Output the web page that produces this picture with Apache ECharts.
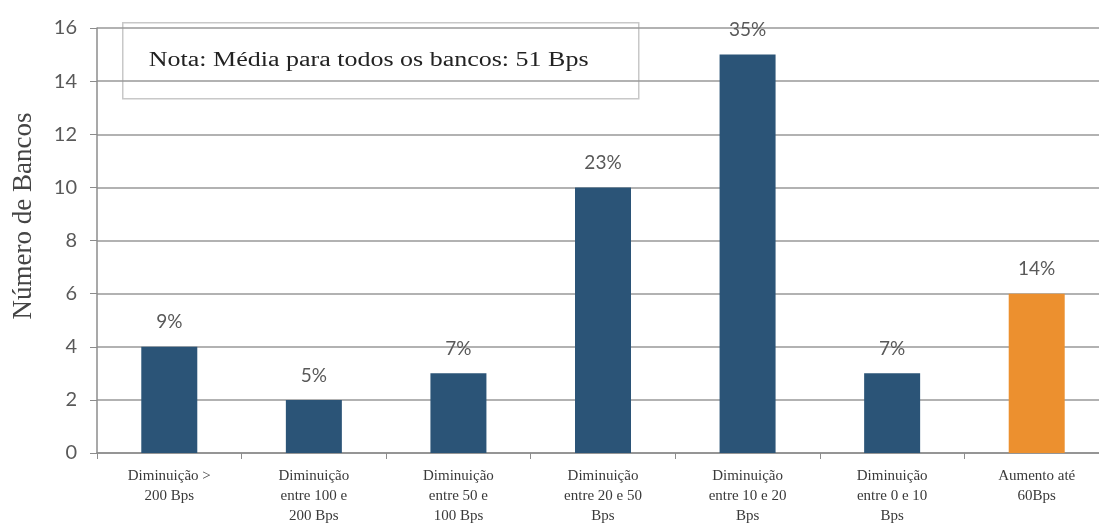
<!DOCTYPE html>
<html>
<head>
<meta charset="utf-8">
<script src="https://cdn.jsdelivr.net/npm/echarts@6/dist/echarts.min.js"></script>
<style>
html,body{margin:0;padding:0;background:#fff;}
#chart{width:1099px;height:524px;}
</style>
</head>
<body>
<div id="chart"></div>
<script>
// Distribuição dos bancos por variação de spread
const categories = [
  'Diminuição >\n200 Bps',
  'Diminuição\nentre 100 e\n200 Bps',
  'Diminuição\nentre 50 e\n100 Bps',
  'Diminuição\nentre 20 e 50\nBps',
  'Diminuição\nentre 10 e 20\nBps',
  'Diminuição\nentre 0 e 10\nBps',
  'Aumento até\n60Bps'
];
const bankCounts = [4, 2, 3, 10, 15, 3, 6];
const shareLabels = ['9%', '5%', '7%', '23%', '35%', '7%', '14%'];
const isIncrease = [false, false, false, false, false, false, true];
const yTicks = [0, 2, 4, 6, 8, 10, 12, 14, 16];

const blue = '#2B5477';
const orange = '#EC902F';

const chart = echarts.init(document.getElementById('chart'));
chart.setOption({
  animation: false,
  backgroundColor: '#fff',
  grid: {
    left: 97, top: 28, width: 1012, height: 425,
    containLabel: false, outerBoundsMode: 'none'
  },
  xAxis: {
    type: 'category',
    data: categories,
    axisLine: { lineStyle: { color: '#8c8c8c', width: 1.5 } },
    axisTick: { show: true, length: 6, lineStyle: { color: '#8c8c8c' } },
    axisLabel: {
      interval: 0,
      fontFamily: 'Liberation Serif',
      fontSize: 15,
      lineHeight: 20,
      color: '#3a3a3a',
      margin: 13
    }
  },
  yAxis: {
    type: 'value',
    min: yTicks[0],
    max: yTicks[yTicks.length - 1],
    interval: 2,
    axisLine: { show: true, lineStyle: { color: '#8c8c8c', width: 1.5 } },
    axisTick: { show: true, length: 7, lineStyle: { color: '#8c8c8c' } },
    splitLine: { lineStyle: { color: '#999', width: 1.5 } },
    axisLabel: {
      fontFamily: 'Lato',
      fontSize: 20,
      color: '#595959',
      margin: 20
    }
  },
  series: [{
    type: 'bar',
    barWidth: 56,
    data: bankCounts.map((v, i) => ({
      value: v,
      itemStyle: { color: isIncrease[i] ? orange : blue },
      label: { formatter: shareLabels[i] }
    })),
    label: {
      show: true,
      position: 'top',
      distance: 15,
      fontFamily: 'Lato',
      fontSize: 19,
      color: '#595959'
    }
  }],
  graphic: [{
    // título do eixo vertical
    type: 'text',
    x: 24,
    y: 216,
    rotation: Math.PI / 2,
    style: {
      text: 'Número de Bancos',
      font: '27px "Liberation Serif"',
      fill: '#444',
      align: 'center',
      verticalAlign: 'middle'
    }
  }, {
    type: 'group',
    left: 122,
    top: 22,
    children: [{
      type: 'rect',
      shape: { x: 0, y: 0, width: 516, height: 76 },
      style: { fill: '#fff', stroke: '#c8c8c8', lineWidth: 1.5 }
    }, {
      type: 'text',
      x: 26,
      y: 38,
      scaleX: 1.3,
      style: {
        text: 'Nota: Média para todos os bancos: 51 Bps',
        font: '20px "Liberation Serif"',
        fill: '#222',
        verticalAlign: 'middle'
      }
    }]
  }]
});
</script>
</body>
</html>
